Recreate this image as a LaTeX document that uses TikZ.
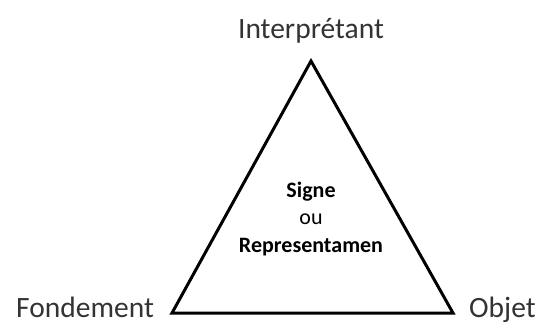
\documentclass[tikz,border=0pt]{standalone}
\usepackage{fontspec}
\setmainfont{Carlito}
\begin{document}
\begin{tikzpicture}[x=1pt,y=-1pt,
  big/.style={font=\fontsize{29.5}{32}\selectfont, text=black!80, inner sep=0pt, anchor=base},
  mid/.style={font=\fontsize{22}{25}\selectfont, text=black, inner sep=0pt, anchor=base},
  edge/.style={line width=3pt, line join=miter}]
\useasboundingbox (0,0) rectangle (540,325);
\coordinate (top) at (311,61);
\coordinate (bl) at (172,313);
\coordinate (br) at (453,313);
\draw[edge] (top) -- (bl) -- (br) -- cycle;
\node[big] (interp) at (311,38) {Interprétant};
\node[big,anchor=base west] (fond) at (16,317) {Fondement};
\node[big,anchor=base west] (obj) at (469,317) {Objet};
\node[mid] (signe) at (311,197) {\bfseries Signe};
\node[mid] (ou) at (311,224) {ou};
\node[mid] (repr) at (311,252) {\bfseries Representamen};
\end{tikzpicture}
\end{document}
